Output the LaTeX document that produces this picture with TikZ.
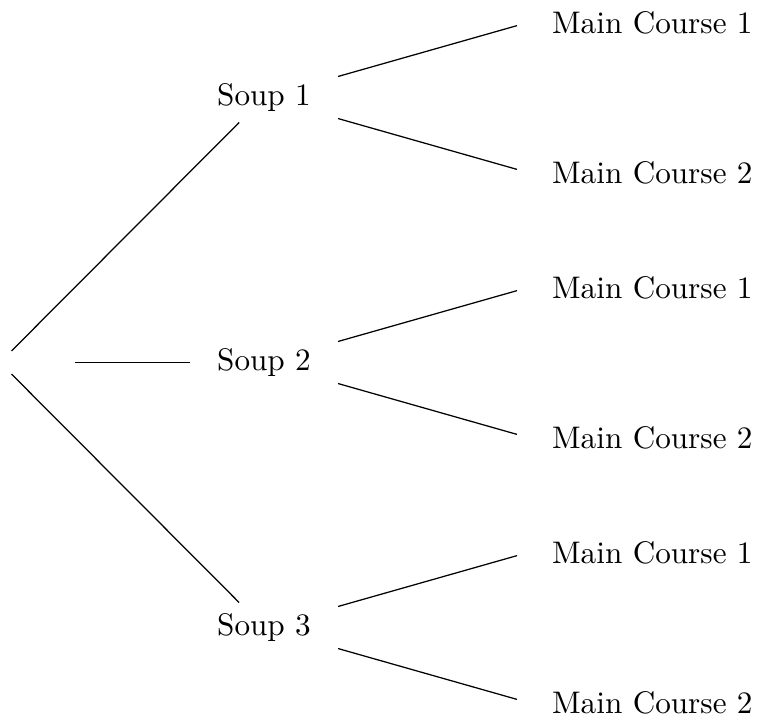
\documentclass[tikz,border=0pt]{standalone}
\begin{document}
\begin{tikzpicture}[x=0.3205pt,y=-0.3205pt,
  hub/.style={inner sep=3.333pt, minimum width=47.4pt, minimum height=7pt},
  soup/.style={inner sep=3.333pt, minimum width=47.1pt},
  leaf/.style={inner sep=3.333pt},
  dish/.style={inner sep=0pt, anchor=base west},
  branch/.style={draw=black, line width=0.4pt}]
\useasboundingbox (0,0) rectangle (757,717);
\node[hub] (root) at (0,362.5) {};
\foreach \i/\y in {1/97.5, 2/362.5, 3/627.5} {
  \node[soup] (s\i) at (264,\y) {Soup \i};
  \draw[branch] (root) -- (s\i);
  \foreach \j/\d in {1/-75, 2/75} {
    \node[leaf] (m\i\j) at (528,{\y+\d}) {};
    \node[dish] (t\i\j) at (551.5,{\y+\d+10.5}) {Main Course \j};
    \draw[branch] (s\i) -- (m\i\j);
  }
}
\end{tikzpicture}
\end{document}
